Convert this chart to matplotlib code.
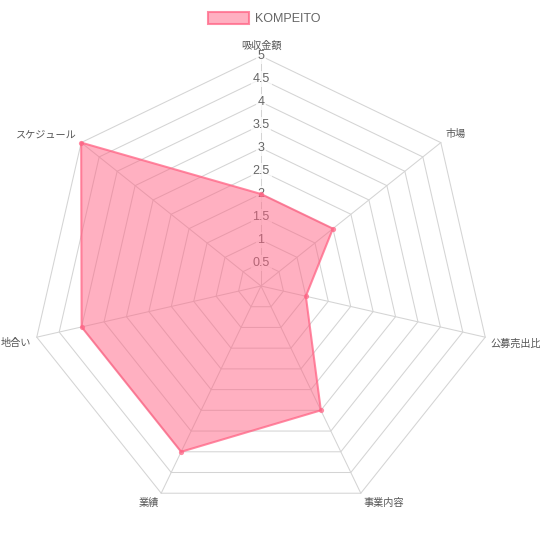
import numpy as np
import matplotlib
matplotlib.use('Agg')
import matplotlib.pyplot as plt
from matplotlib.patches import Patch

plt.rcParams['font.family'] = ['Noto Sans CJK JP', 'DejaVu Sans']

# データ
labels = ['吸収金額', '市場', '公募売出比', '事業内容', '業績', '地合い', 'スケジュール']
values = [2, 2, 1, 3, 4, 4, 5]
ticks = [0.5, 1, 1.5, 2, 2.5, 3, 3.5, 4, 4.5, 5]
tick_labels = ['0.5', '1', '1.5', '2', '2.5', '3', '3.5', '4', '4.5', '5']
series_name = 'KOMPEITO'

rmax = 5
px = 46.0  # 1単位あたりのピクセル
cx, cy = 261, 286

n = len(labels)
ang = np.arange(n) * 2 * np.pi / n
sx, sy = np.sin(ang), np.cos(ang)

fig = plt.figure(figsize=(5.4, 5.4), dpi=100)
ax = fig.add_axes([0, 0, 1, 1])
ax.set_xlim(-cx / px, (540 - cx) / px)
ax.set_ylim(-(540 - cy) / px, cy / px)
ax.axis('off')

grid_c = '#d4d4d4'
# 同心の多角形グリッド
for t in ticks:
    gx = np.append(sx * t, sx[0] * t)
    gy = np.append(sy * t, sy[0] * t)
    ax.plot(gx, gy, color=grid_c, lw=0.75, zorder=1)
# 放射線
for i in range(n):
    ax.plot([0, sx[i] * rmax], [0, sy[i] * rmax], color=grid_c, lw=0.75, zorder=1)

# 目盛りラベル
for t, tl in zip(ticks, tick_labels):
    ax.text(0, t, tl, ha='center', va='center', fontsize=9, color='#666666',
            family=['Liberation Sans'], zorder=2,
            bbox=dict(boxstyle='square,pad=0.15', fc=(1, 1, 1, 0.75), ec='none'))

# 軸ラベル
off = 5.5 / px
for i, lab in enumerate(labels):
    x = sx[i] * (rmax + off)
    y = sy[i] * (rmax + off)
    if abs(sx[i]) < 1e-6:
        ha = 'center'
    elif sx[i] > 0:
        ha = 'left'
    else:
        ha = 'right'
    va = 'bottom' if sy[i] > 0 else 'top'
    ax.text(x, y, lab, ha=ha, va=va, fontsize=7.3, color='#555555')

# データ系列
vals = np.array(values, dtype=float)
xs = sx * vals
ys = sy * vals
fill_c = (1, 99 / 255, 132 / 255, 0.5)
line_c = (1, 99 / 255, 132 / 255, 0.75)
ax.fill(xs, ys, color=fill_c, lw=0, zorder=3)
ax.plot(np.append(xs, xs[0]), np.append(ys, ys[0]), color=line_c, lw=1.5, zorder=4)
ax.scatter(xs, ys, s=14, color=line_c, zorder=5, lw=0)

handle = Patch(facecolor=fill_c, edgecolor=line_c, lw=1.5)
fig.legend([handle], [series_name], loc='upper center',
           bbox_to_anchor=(264 / 540, 1 - 0.5 / 540), frameon=False,
           handlelength=3.3, handleheight=1.15, handletextpad=0.5,
           prop={'family': 'Liberation Sans', 'size': 9}, labelcolor='#666666')

fig.savefig('out.png', dpi=100)
